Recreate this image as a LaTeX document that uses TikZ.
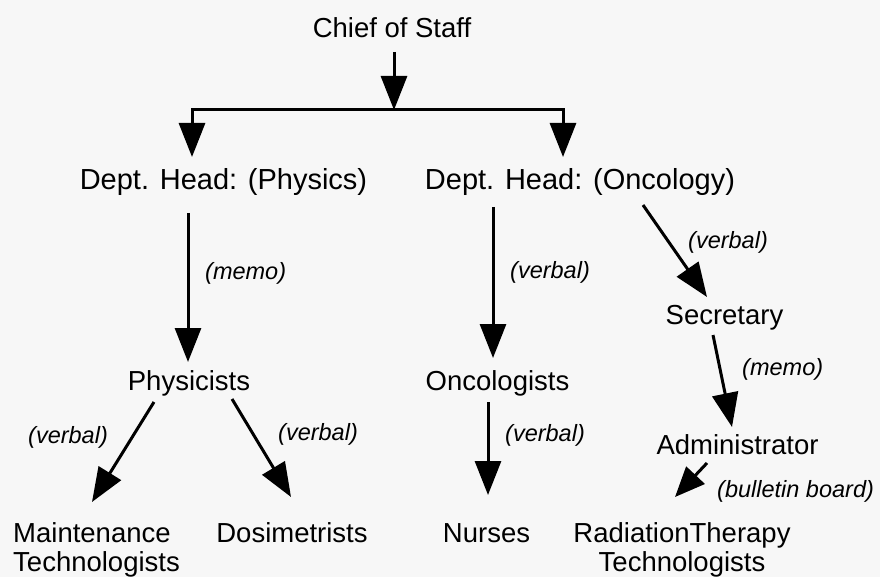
\documentclass[tikz,border=0pt]{standalone}
\usepackage{fontspec}
\setmainfont{Liberation Sans}
\usetikzlibrary{arrows.meta}
\definecolor{paper}{HTML}{F7F7F7}
\begin{document}
\begin{tikzpicture}[x=1pt,y=-1pt,
  role/.style={inner sep=0pt, anchor=base, font=\fontsize{27.5}{30}\selectfont},
  head/.style={role, font=\fontsize{29}{31}\selectfont},
  how/.style={inner sep=0pt, anchor=base west, font=\fontsize{23.5}{26}\selectfont\itshape},
  wire/.style={line width=3pt},
  link/.style={wire, -{Triangle[length=34pt,width=26pt]}},
]
\fill[paper] (0,0) rectangle (880,577);
\useasboundingbox (0,0) rectangle (880,577);

% positions
\node[role] (chief) at (392,38) {Chief of Staff};
\node[head] (physHead) at (223.5,190) {Dept. Head: (Physics)};
\node[head] (oncHead) at (580,190) {Dept. Head: (Oncology)};
\node[role] (physicists) at (189,390) {Physicists};
\node[role] (oncologists) at (497.5,390) {Oncologists};
\node[role] (secretary) at (724.5,324) {Secretary};
\node[role] (admin) at (737.5,454) {Administrator};
\node[role, anchor=base west] (maintA) at (13,542) {Maintenance};
\node[role, anchor=base west] (maintB) at (13,571) {Technologists};
\node[role] (dosi) at (292,542) {Dosimetrists};
\node[role] (nurses) at (486.5,542) {Nurses};
\node[role] (radA) at (682,542) {RadiationTherapy};
\node[role] (radB) at (682,571) {Technologists};

% channel labels
\node[how] (l1) at (205,279) {(memo)};
\node[how] (l2) at (510,278) {(verbal)};
\node[how] (l3) at (688,248) {(verbal)};
\node[how] (l4) at (742,375) {(memo)};
\node[how] (l5) at (505,441) {(verbal)};
\node[how] (l6) at (717,497) {(bulletin board)};
\node[how] (l7) at (28,443) {(verbal)};
\node[how] (l8) at (278,440) {(verbal)};

% connector end points
\coordinate (chiefOut) at (394,52);
\coordinate (barM) at (394,110);
\coordinate (barL) at (192,110);
\coordinate (barR) at (563,110);
\coordinate (physIn) at (192,157);
\coordinate (oncIn) at (563,157);
\coordinate (physOut) at (188,213);
\coordinate (physicistsIn) at (188,362);
\coordinate (oncOutA) at (493,207);
\coordinate (oncologistsIn) at (493,358);
\coordinate (oncOutB) at (643,205);
\coordinate (secIn) at (707,297);
\coordinate (secOut) at (713,335);
\coordinate (adminIn) at (732,427);
\coordinate (adminOut) at (707,463);
\coordinate (radIn) at (675,497);
\coordinate (oncologistsOut) at (488,402);
\coordinate (nursesIn) at (488,495);
\coordinate (physicistsOutL) at (154,402);
\coordinate (maintIn) at (92,502);
\coordinate (physicistsOutR) at (232,399);
\coordinate (dosiIn) at (291,497);

% connectors
\draw[link] (chiefOut) -- (barM);
\draw[wire, line cap=rect] (barL) -- (barR);
\draw[link] (barL) -- (physIn);
\draw[link] (barR) -- (oncIn);
\draw[link] (physOut) -- (physicistsIn);
\draw[link] (oncOutA) -- (oncologistsIn);
\draw[link] (oncOutB) -- (secIn);
\draw[link] (secOut) -- (adminIn);
\draw[link, -{Triangle[length=30pt,width=25pt]}] (adminOut) -- (radIn);
\draw[link] (oncologistsOut) -- (nursesIn);
\draw[link] (physicistsOutL) -- (maintIn);
\draw[link] (physicistsOutR) -- (dosiIn);
\end{tikzpicture}
\end{document}
